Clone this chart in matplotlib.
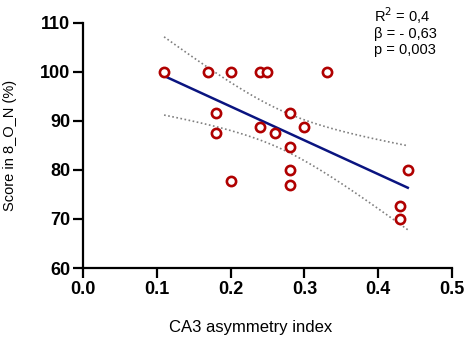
import numpy as np
import matplotlib
matplotlib.use("Agg")
from matplotlib import pyplot as plt

plt.rcParams['font.family'] = ['Liberation Sans', 'DejaVu Sans']

# CA3 asymmetry index vs score
asym = [0.11, 0.17, 0.20, 0.24, 0.25, 0.33,
        0.18, 0.18, 0.20, 0.24, 0.26, 0.28, 0.30,
        0.28, 0.28, 0.28, 0.44, 0.43, 0.43]
score = [100, 100, 100, 100, 100, 100,
         91.6, 87.5, 77.8, 88.8, 87.5, 91.6, 88.8,
         84.6, 80.0, 76.9, 80.0, 72.7, 69.9]

xticks = [0.0, 0.1, 0.2, 0.3, 0.4, 0.5]
yticks = [60, 70, 80, 90, 100, 110]
stats_text = "R$^2$ = 0,4\n\u03b2 = - 0,63\np = 0,003"


def fit_with_band(x, y, n=100):
    x = np.asarray(x)
    y = np.asarray(y)
    slope, intercept = np.polyfit(x, y, 1)
    xs = np.linspace(x.min(), x.max(), n)
    ys = slope * xs + intercept
    resid = y - (slope * x + intercept)
    dof = len(x) - 2
    s = np.sqrt(np.sum(resid ** 2) / dof)
    sxx = np.sum((x - x.mean()) ** 2)
    t = 2.11  # t(0.975, 17)
    half = t * s * np.sqrt(1.0 / len(x) + (xs - x.mean()) ** 2 / sxx)
    return xs, ys, ys - half, ys + half


def main():
    fig = plt.figure(figsize=(4.68, 3.41), dpi=100)
    ax = fig.add_axes([0.177, 0.214, 0.789, 0.719])

    xs, ys, lo, hi = fit_with_band(asym, score)
    ax.plot(xs, hi, color='#808080', lw=1.2, ls=(0, (1, 1.5)))
    ax.plot(xs, lo, color='#808080', lw=1.2, ls=(0, (1, 1.5)))
    ax.plot(xs, ys, color='#0a1480', lw=1.8)
    ax.scatter(asym, score, s=44, facecolors='white', edgecolors='#b00000',
               linewidths=1.9, zorder=3)

    ax.set_xlim(0, 0.5)
    ax.set_ylim(60, 110)
    ax.set_xticks(xticks)
    ax.set_yticks(yticks)
    ax.set_xticklabels(['%.1f' % v for v in xticks])
    for lab in ax.get_xticklabels() + ax.get_yticklabels():
        lab.set_fontweight('bold')
        lab.set_fontsize(13)
    ax.tick_params(width=1.6, length=7, direction='out', pad=2)

    for side in ['top', 'right']:
        ax.spines[side].set_visible(False)
    for side in ['left', 'bottom']:
        ax.spines[side].set_linewidth(1.6)

    ax.set_xlabel('CA3 asymmetry index', fontsize=12)
    ax.xaxis.set_label_coords(0.455, -0.21)
    ax.set_ylabel('Score in 8_O_N (%)', fontsize=10.5)
    ax.yaxis.set_label_coords(-0.178, 0.5)

    fig.text(0.80, 0.985, stats_text, fontsize=10.5, va='top', ha='left',
             linespacing=1.15)

    fig.savefig('out.png', dpi=100)


if __name__ == "__main__":
    main()
